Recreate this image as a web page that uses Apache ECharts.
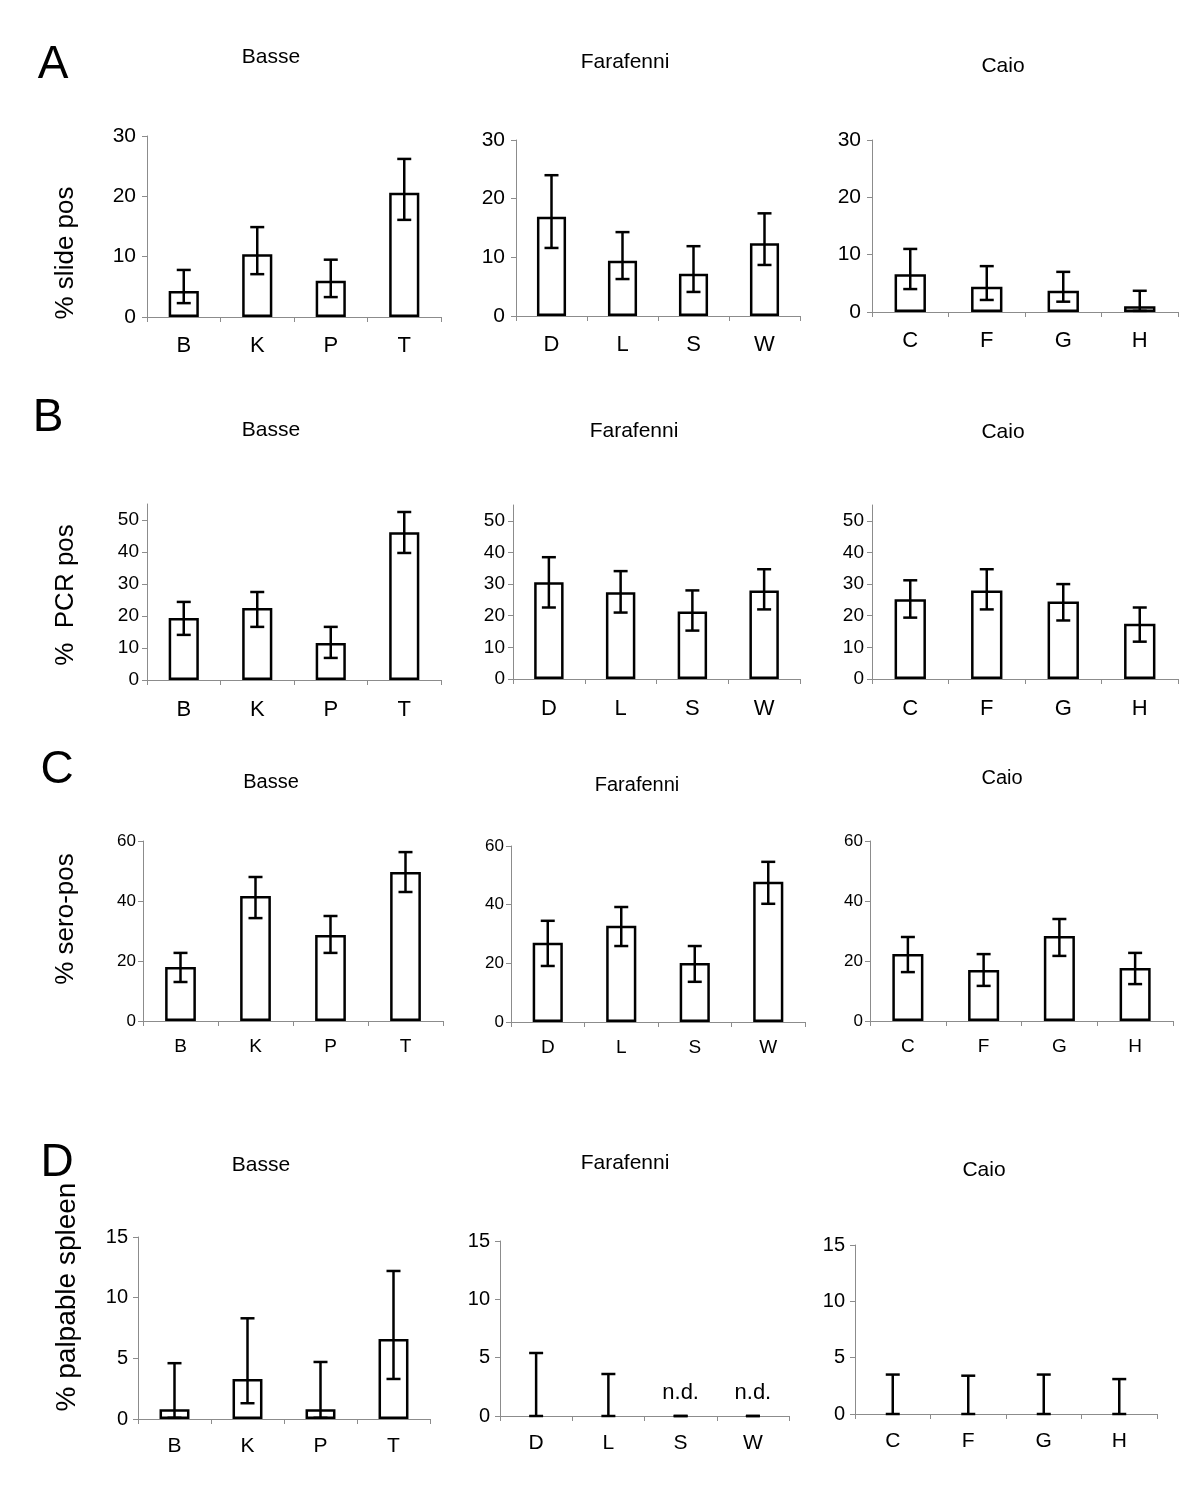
<!DOCTYPE html>
<html>
<head>
<meta charset="utf-8">
<title>chart</title>
<script src="https://cdn.jsdelivr.net/npm/echarts@6/dist/echarts.min.js"></script>
<style>
html, body { margin: 0; padding: 0; background: #fff; }
#main { width: 1200px; height: 1490px; }
</style>
</head>
<body>
<div id="main"></div>
<script>
// categories per site
var basseCats = ['B', 'K', 'P', 'T']
var farafenniCats = ['D', 'L', 'S', 'W']
var caioCats = ['C', 'F', 'G', 'H']
var sites = ['Basse', 'Farafenni', 'Caio']

// A: % slide pos (rows = Basse, Farafenni, Caio)
var slideMean = [[4.3, 10.4, 6.0, 20.6], [16.9, 9.4, 7.2, 12.4], [6.6, 4.4, 3.7, 1.0]]
var slideLow  = [[2.3, 7.1, 3.3, 16.1], [11.6, 6.3, 4.1, 8.7], [4.0, 2.1, 1.8, 0.2]]
var slideHigh = [[7.8, 14.9, 9.5, 26.2], [24.0, 14.3, 11.9, 17.5], [11.0, 8.0, 7.0, 3.7]]
var slideTicks = [0, 10, 20, 30]

// B: % PCR pos
var pcrMean = [[19.4, 22.5, 11.6, 46.2], [30.6, 27.4, 21.3, 28.0], [25.2, 28.0, 24.5, 17.5]]
var pcrLow  = [[14.1, 16.6, 6.9, 39.7], [22.6, 21.0, 15.3, 22.0], [19.4, 22.0, 18.5, 11.8]]
var pcrHigh = [[24.4, 27.5, 16.6, 52.5], [38.5, 34.1, 28.0, 34.7], [31.2, 34.7, 30.0, 22.6]]
var pcrTicks = [0, 10, 20, 30, 40, 50]

// C: % sero-pos
var seroMean = [[18.0, 41.7, 28.7, 49.7], [27.0, 32.8, 20.1, 47.8], [22.3, 17.0, 28.3, 17.7]]
var seroLow  = [[13.0, 34.3, 22.7, 43.0], [19.1, 25.9, 13.7, 40.3], [16.3, 11.7, 21.7, 12.3]]
var seroHigh = [[22.7, 48.0, 35.0, 56.3], [34.5, 39.2, 25.9, 54.6], [28.0, 22.3, 34.0, 22.7]]
var seroTicks = [0, 20, 40, 60]

// D: % palpable spleen
var spleenMean = [[0.8, 3.3, 0.8, 6.6], [0, 0, 0, 0], [0, 0, 0, 0]]
var spleenLow  = [[0.1, 1.3, 0.1, 3.3], [0, 0, 0, 0], [0, 0, 0, 0]]
var spleenHigh = [[4.6, 8.3, 4.7, 12.2], [5.4, 3.6, 0, 0], [3.5, 3.4, 3.5, 3.1]]
var spleenNote = [['', '', '', ''], ['', '', 'n.d.', 'n.d.'], ['', '', '', '']]
var spleenTicks = [0, 5, 10, 15]

var catsBySite = [basseCats, farafenniCats, caioCats]
var FONT = '"Liberation Sans", Arial, sans-serif'

// layout of the four rows (grid = left, top, width, height)
var rows = [
    {
        letter: 'A', yName: '% slide pos', mean: slideMean, low: slideLow, high: slideHigh, ticks: slideTicks, max: 30,
        grids: [[147, 136, 294, 181], [516, 140, 284, 176], [872, 140, 306, 172]],
        titles: [[271, 57], [625, 62], [1003, 66]], letterPos: [53, 65], namePos: [66, 253], nameFont: 26,
        tickFont: 21, tickMargin: 11, catFont: 22, catMargin: 18, titleFont: 21
    },
    {
        letter: 'B', yName: '%  PCR pos', mean: pcrMean, low: pcrLow, high: pcrHigh, ticks: pcrTicks, max: 55,
        grids: [[147, 504, 294, 176], [513, 505, 287, 174], [872, 505, 306, 174]],
        titles: [[271, 430], [634, 431], [1003, 432]], letterPos: [48, 418], namePos: [66, 595], nameFont: 26,
        tickFont: 19, tickMargin: 8, catFont: 22, catMargin: 19, titleFont: 21
    },
    {
        letter: 'C', yName: '% sero-pos', mean: seroMean, low: seroLow, high: seroHigh, ticks: seroTicks, max: 60,
        grids: [[143, 841, 300, 180], [511, 846, 294, 176], [870, 841, 303, 180]],
        titles: [[271, 782], [637, 785], [1002, 778]], letterPos: [57, 770], namePos: [66, 919], nameFont: 26,
        tickFont: 17, tickMargin: 7, catFont: 19, catMargin: 16, titleFont: 20
    },
    {
        letter: 'D', yName: '% palpable spleen', mean: spleenMean, low: spleenLow, high: spleenHigh, ticks: spleenTicks, max: 15,
        notes: spleenNote,
        grids: [[138, 1237, 292, 182], [500, 1241, 289, 175], [855, 1245, 302, 169]],
        titles: [[261, 1165], [625, 1163], [984, 1170]], letterPos: [57, 1163], namePos: [67, 1297], nameFont: 28,
        tickFont: 20, tickMargin: 10, catFont: 21, catMargin: 17, titleFont: 21
    }
]

function renderErr(params, api) {
    var x = api.value(0)
    var lo = api.coord([x, api.value(1)])
    var hi = api.coord([x, api.value(2)])
    var half = 7
    var st = { stroke: '#000', lineWidth: 2.5 }
    return {
        type: 'group',
        children: [
            { type: 'line', shape: { x1: lo[0], y1: lo[1], x2: hi[0], y2: hi[1] }, style: st },
            { type: 'line', shape: { x1: hi[0] - half, y1: hi[1], x2: hi[0] + half, y2: hi[1] }, style: st },
            { type: 'line', shape: { x1: lo[0] - half, y1: lo[1], x2: lo[0] + half, y2: lo[1] }, style: st }
        ]
    }
}

function txt(x, y, text, size, rot) {
    return {
        type: 'text', x: x, y: y, rotation: rot || 0, silent: true,
        style: {
            text: text, fontSize: size, fontFamily: FONT, fill: '#000',
            align: 'center', verticalAlign: 'middle', textAlign: 'center', textVerticalAlign: 'middle'
        }
    }
}

var grid = [], xAxis = [], yAxis = [], series = [], graphic = []

rows.forEach(function (row) {
    graphic.push(txt(row.letterPos[0], row.letterPos[1], row.letter, 46))
    graphic.push(txt(row.namePos[0], row.namePos[1], row.yName, row.nameFont, Math.PI / 2))
    for (var s = 0; s < 3; s++) {
        var idx = grid.length
        var g = row.grids[s]
        grid.push({ left: g[0], top: g[1], width: g[2], height: g[3] })
        graphic.push(txt(row.titles[s][0], row.titles[s][1], sites[s], row.titleFont))
        xAxis.push({
            type: 'category', gridIndex: idx, data: catsBySite[s],
            axisLine: { lineStyle: { color: '#8c8c8c', width: 1 } },
            axisTick: { show: true, length: 5, lineStyle: { color: '#8c8c8c' } },
            axisLabel: { fontSize: row.catFont, fontFamily: FONT, color: '#000', margin: row.catMargin }
        })
        yAxis.push({
            type: 'value', gridIndex: idx, min: 0, max: row.max, interval: row.ticks[1] - row.ticks[0],
            splitLine: { show: false },
            axisLine: { show: true, lineStyle: { color: '#8c8c8c', width: 1 } },
            axisTick: { show: true, length: 5, customValues: row.ticks, lineStyle: { color: '#8c8c8c' } },
            axisLabel: { fontSize: row.tickFont, fontFamily: FONT, color: '#000', margin: row.tickMargin, customValues: row.ticks }
        })
        var notes = row.notes ? row.notes[s] : null
        series.push({
            type: 'bar', xAxisIndex: idx, yAxisIndex: idx, barWidth: '41%', silent: true,
            itemStyle: { color: '#fff', borderColor: '#000', borderWidth: 2.5 },
            data: row.mean[s].map(function (v, j) {
                var item = { value: v }
                if (v === 0) item.itemStyle = { borderWidth: 0 }
                if (notes && notes[j]) {
                    item.label = {
                        show: true, position: 'top', distance: 12, formatter: notes[j],
                        fontSize: 22, fontFamily: FONT, color: '#000'
                    }
                }
                return item
            })
        })
        series.push({
            type: 'custom', xAxisIndex: idx, yAxisIndex: idx, z: 10, silent: true,
            renderItem: renderErr,
            encode: { x: 0, y: [1, 2] },
            data: row.low[s].map(function (lo, j) { return [j, lo, row.high[s][j]] })
        })
    }
})

var chart = echarts.init(document.getElementById('main'))
chart.setOption({
    animation: false,
    backgroundColor: '#fff',
    grid: grid,
    xAxis: xAxis,
    yAxis: yAxis,
    series: series,
    graphic: graphic
})
</script>
</body>
</html>
